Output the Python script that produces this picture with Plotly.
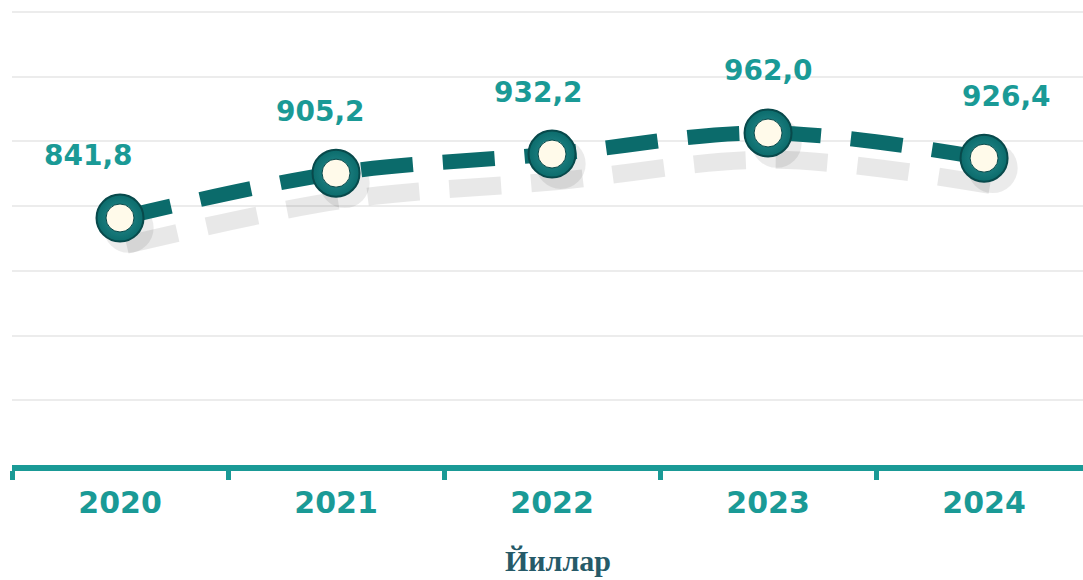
import plotly.graph_objects as go

years = ["2020", "2021", "2022", "2023", "2024"]
values = [841.8, 905.2, 932.2, 962.0, 926.4]
labels = ["841,8", "905,2", "932,2", "962,0", "926,4"]
label_shift_x = [-32, -16, -14, 0, 22]

TEAL = "#1a9a96"
DARK = "#0b6b6b"
Y_MIN, Y_MAX = 492.5, 1133.0
X_RANGE = [-0.5, 4.458]

idx = list(range(len(years)))
shadow_dy = 38
shadow_dx = 0.03

fig = go.Figure()

# soft shadow under the line and markers
fig.add_trace(go.Scatter(
    x=[i + shadow_dx for i in idx], y=[v - shadow_dy for v in values],
    xaxis="x2", mode="lines", line=dict(color="rgba(0,0,0,0.09)", width=18, dash="52px,30px", shape="spline"),
    hoverinfo="skip", showlegend=False,
))
fig.add_trace(go.Scatter(
    x=[i + 0.04 for i in idx], y=[v - 14 for v in values],
    xaxis="x2", mode="markers", marker=dict(size=50, color="rgba(0,0,0,0.08)", line=dict(width=0)),
    hoverinfo="skip", showlegend=False,
))

fig.add_trace(go.Scatter(
    x=idx, y=values, xaxis="x2", mode="lines",
    line=dict(color=DARK, width=15, dash="52px,30px", shape="spline"),
    hoverinfo="skip", showlegend=False,
))
fig.add_trace(go.Scatter(
    x=idx, y=values, xaxis="x2", mode="markers",
    marker=dict(size=47, color=DARK, line=dict(width=2, color="#08494b"),
                gradient=dict(type="radial", color="#2a8f92")),
    hoverinfo="skip", showlegend=False,
))
fig.add_trace(go.Scatter(
    x=idx, y=values, xaxis="x2", mode="markers",
    marker=dict(size=28, color="#fffaea", line=dict(width=1, color="#08494b")),
    hoverinfo="skip", showlegend=False,
))
# invisible trace to give the category axis its labels
fig.add_trace(go.Scatter(x=years, y=values, mode="markers", marker=dict(opacity=0),
                         hoverinfo="skip", showlegend=False))

for i, v, t, dx in zip(idx, values, labels, label_shift_x):
    fig.add_annotation(x=i, y=v, xref="x2", text=t, showarrow=False, xshift=dx, yshift=62,
                       font=dict(family="DejaVu Sans", size=28, color=TEAL, weight="bold"))

fig.add_annotation(x=0.51, y=-0.208, xref="paper", yref="paper", yanchor="middle", text="Йиллар",
                   showarrow=False,
                   font=dict(family="Liberation Serif", size=30, color="#265a68", weight="bold"))

step = (Y_MAX - Y_MIN) / 7
fig.update_layout(
    width=1083, height=580,
    margin=dict(l=12, r=0, t=8, b=115),
    paper_bgcolor="white", plot_bgcolor="white",
    xaxis=dict(type="category", range=X_RANGE, tickson="boundaries", ticks="outside",
               ticklen=9, tickwidth=5, tickcolor=TEAL, showline=True, linecolor=TEAL, linewidth=6,
               showgrid=False, zeroline=False, ticklabelstandoff=6,
               tickfont=dict(family="DejaVu Sans", size=30, color=TEAL, weight="bold")),
    xaxis2=dict(overlaying="x", range=X_RANGE, visible=False),
    yaxis=dict(range=[Y_MIN, Y_MAX + 5.7], tickvals=[Y_MAX - k * step for k in range(7)],
               showticklabels=False, showgrid=True, gridcolor="#ececec", gridwidth=2,
               zeroline=False, showline=False),
)

fig.write_html("out.html", config={"displayModeBar": False},
               post_script="document.body.style.margin='0';")
